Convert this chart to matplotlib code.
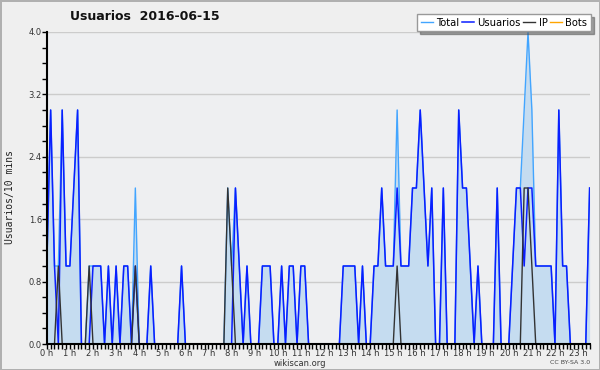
import numpy as np
import matplotlib
matplotlib.use('Agg')
import matplotlib.pyplot as plt
from matplotlib.ticker import MultipleLocator, FixedLocator

# 10-minute slots of 2016-06-15 (0 = 00:00), as far as the chart shows them
usuarios = [
    1, 3, 1, 0, 3, 1, 1, 2, 3, 0,
    0, 0, 1, 1, 1, 0, 1, 0, 1, 0,
    1, 1, 0, 1, 0, 0, 0, 1, 0, 0,
    0, 0, 0, 0, 0, 1, 0, 0, 0, 0,
    0, 0, 0, 0, 0, 0, 0, 0, 0, 2,
    1, 0, 1, 0, 0, 0, 1, 1, 1, 0,
    0, 1, 0, 1, 1, 0, 1, 1, 0, 0,
    0, 0, 0, 0, 0, 0, 0, 1, 1, 1,
    1, 0, 1, 0, 0, 1, 1, 2, 1, 1,
    1, 2, 1, 1, 1, 2, 2, 3, 2, 1,
    2, 0, 0, 2, 0, 0, 0, 3, 2, 2,
    1, 0, 1, 0, 0, 0, 0, 2, 0, 0,
    0, 1, 2, 2, 1, 2, 2, 1, 1, 1,
    1, 1, 0, 3, 1, 1, 0, 0, 0, 0,
    0, 2]

total = [
    1, 3, 1, 1, 3, 1, 1, 2, 3, 0,
    0, 1, 1, 1, 1, 0, 1, 0, 1, 0,
    1, 1, 0, 2, 0, 0, 0, 1, 0, 0,
    0, 0, 0, 0, 0, 1, 0, 0, 0, 0,
    0, 0, 0, 0, 0, 0, 0, 2, 1, 2,
    1, 0, 1, 0, 0, 0, 1, 1, 1, 0,
    0, 1, 0, 1, 1, 0, 1, 1, 0, 0,
    0, 0, 0, 0, 0, 0, 0, 1, 1, 1,
    1, 0, 1, 0, 0, 1, 1, 2, 1, 1,
    1, 3, 1, 1, 1, 2, 2, 3, 2, 1,
    2, 0, 0, 2, 0, 0, 0, 3, 2, 2,
    1, 0, 1, 0, 0, 0, 0, 2, 0, 0,
    0, 1, 2, 2, 3, 4, 3, 1, 1, 1,
    1, 1, 0, 3, 1, 1, 0, 0, 0, 0,
    0, 2]

ip = [
    0, 0, 0, 1, 0, 0, 0, 0, 0, 0,
    0, 1, 0, 0, 0, 0, 0, 0, 0, 0,
    0, 0, 0, 1, 0, 0, 0, 0, 0, 0,
    0, 0, 0, 0, 0, 0, 0, 0, 0, 0,
    0, 0, 0, 0, 0, 0, 0, 2, 1, 0,
    0, 0, 0, 0, 0, 0, 0, 0, 0, 0,
    0, 0, 0, 0, 0, 0, 0, 0, 0, 0,
    0, 0, 0, 0, 0, 0, 0, 0, 0, 0,
    0, 0, 0, 0, 0, 0, 0, 0, 0, 0,
    0, 1, 0, 0, 0, 0, 0, 0, 0, 0,
    0, 0, 0, 0, 0, 0, 0, 0, 0, 0,
    0, 0, 0, 0, 0, 0, 0, 0, 0, 0,
    0, 0, 0, 0, 2, 2, 1, 0, 0, 0,
    0, 0, 0, 0, 0, 0, 0, 0, 0, 0,
    0, 0]

bots = [0] * len(usuarios)

hours = list(range(24))
hour_labels = ['%d h' % h for h in hours]

x = np.arange(len(usuarios))

fig = plt.figure(figsize=(6, 3.7), dpi=100, facecolor='#efefef',
                 edgecolor='#b0b0b0', linewidth=2)
ax = fig.add_axes([46.8 / 600, 1 - 344 / 370, (590 - 46.8) / 600, 312 / 370])
ax.set_facecolor('#eeeff1')

ax.fill_between(x, total, 0, color='#c5dcf0', lw=0, zorder=1)
ax.plot(x, bots, color='#ffa500', lw=1, label='Bots', zorder=1.5)
ax.plot(x, total, color='#42a5ff', lw=1, label='Total', zorder=2)
ax.plot(x, usuarios, color='#0a1eff', lw=1.1, label='Usuarios', zorder=3)
ax.plot(x, ip, color='#333333', lw=1, label='IP', zorder=4)

ax.set_xlim(0, 141.1)
ax.set_ylim(0, 4)

# y axis: labels every 0.8, small ticks every 0.2
ax.yaxis.set_major_locator(MultipleLocator(0.8))
ax.yaxis.set_minor_locator(MultipleLocator(0.2))
ax.set_yticklabels(['%.1f' % v for v in ax.get_yticks()])
ax.grid(axis='y', color='#cccccc', lw=1)
ax.set_axisbelow(True)

# x axis: one tick per 10 minutes, label each hour
ax.xaxis.set_major_locator(FixedLocator([h * 6 for h in hours]))
ax.set_xticklabels(hour_labels)
ax.xaxis.set_minor_locator(MultipleLocator(1))

ax.tick_params(axis='both', which='major', length=3.5, width=1, color='black',
               labelsize=6, labelcolor='#333333', pad=0)
ax.tick_params(axis='both', which='minor', length=3.5, width=1, color='black')

for s in ['top', 'right']:
    ax.spines[s].set_visible(False)
for s in ['left', 'bottom']:
    ax.spines[s].set_color('black')
    ax.spines[s].set_linewidth(1.5)
    ax.spines[s].set_zorder(5)

fig.text(145 / 600, 1 - 17 / 370, 'Usuarios  2016-06-15', ha='center',
         va='center', fontsize=9, fontweight='bold', color='#111111')
fig.text(10 / 600, 1 - 197 / 370, 'Usuarios/10 mins', rotation=90,
         ha='center', va='center', fontsize=7, family='DejaVu Sans Mono',
         color='#222222')
fig.text(300 / 600, 1 - 364 / 370, 'wikiscan.org', ha='center', va='center',
         fontsize=6, color='#333333')
fig.text(590 / 600, 1 - 363 / 370, 'CC BY-SA 3.0', ha='right', va='center',
         fontsize=4.5, color='#444444')

handles, labels = ax.get_legend_handles_labels()
order = ['Total', 'Usuarios', 'IP', 'Bots']
hmap = dict(zip(labels, handles))
leg = fig.legend([hmap[k] for k in order], order, loc='upper right',
                 bbox_to_anchor=(591 / 600, 1 - 14 / 370), ncol=4,
                 fontsize=7.2, frameon=True, fancybox=False, shadow=True,
                 handlelength=1.2, handletextpad=0.35, columnspacing=0.25,
                 borderpad=0.35, borderaxespad=0)
leg.get_frame().set_edgecolor('#999999')
leg.get_frame().set_linewidth(1)

fig.savefig('out.png', dpi=100, facecolor=fig.get_facecolor(),
            edgecolor=fig.get_edgecolor())
